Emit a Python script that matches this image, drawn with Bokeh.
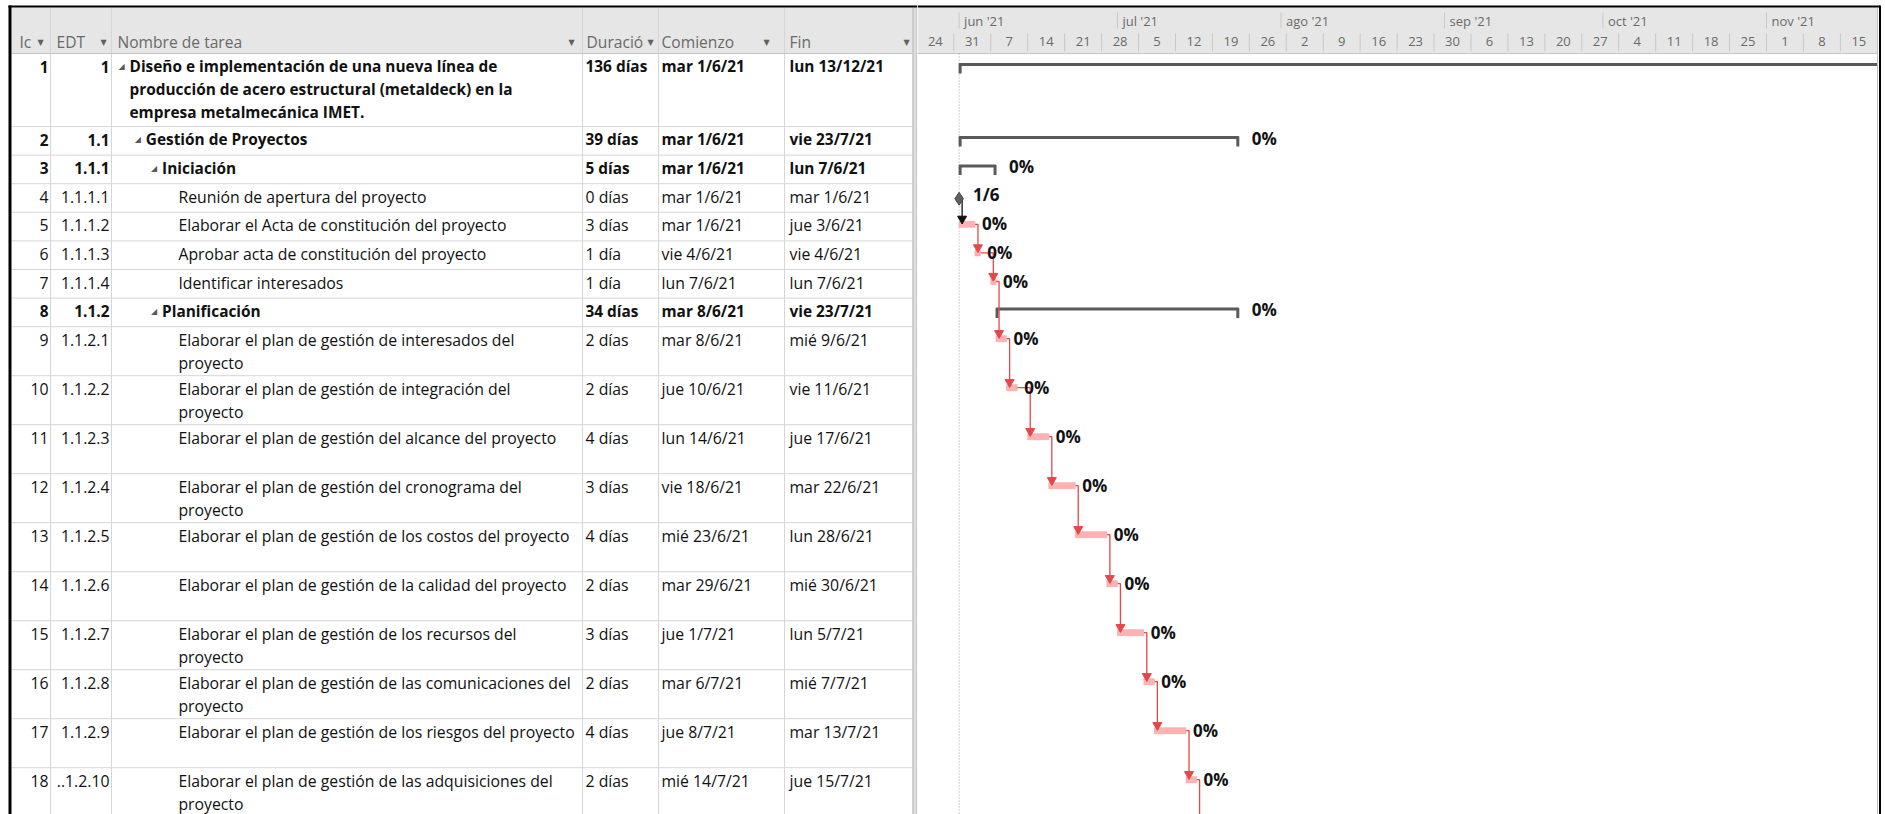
from datetime import datetime

from bokeh.core.properties import value
from bokeh.embed import file_html
from bokeh.layouts import row
from bokeh.models import ColumnDataSource, Range1d
from bokeh.plotting import figure
from bokeh.resources import INLINE

# ---------------------------------------------------------------- task data
task_ids = list(range(1, 19))
edt_codes = ["1", "1.1", "1.1.1", "1.1.1.1", "1.1.1.2", "1.1.1.3", "1.1.1.4",
             "1.1.2", "1.1.2.1", "1.1.2.2", "1.1.2.3", "1.1.2.4", "1.1.2.5",
             "1.1.2.6", "1.1.2.7", "1.1.2.8", "1.1.2.9", "1.1.2.10"]
task_names = [
    "Diseño e implementación de una nueva línea de\nproducción de acero estructural (metaldeck) en la\nempresa metalmecánica IMET.",
    "Gestión de Proyectos",
    "Iniciación",
    "Reunión de apertura del proyecto",
    "Elaborar el Acta de constitución del proyecto",
    "Aprobar acta de constitución del proyecto",
    "Identificar interesados",
    "Planificación",
    "Elaborar el plan de gestión de interesados del\nproyecto",
    "Elaborar el plan de gestión de integración del\nproyecto",
    "Elaborar el plan de gestión del alcance del proyecto",
    "Elaborar el plan de gestión del cronograma del\nproyecto",
    "Elaborar el plan de gestión de los costos del proyecto",
    "Elaborar el plan de gestión de la calidad del proyecto",
    "Elaborar el plan de gestión de los recursos del\nproyecto",
    "Elaborar el plan de gestión de las comunicaciones del\nproyecto",
    "Elaborar el plan de gestión de los riesgos del proyecto",
    "Elaborar el plan de gestión de las adquisiciones del\nproyecto",
]
outline_levels = [0, 1, 2, 3, 3, 3, 3, 2, 3, 3, 3, 3, 3, 3, 3, 3, 3, 3]
is_summary = [True, True, True, False, False, False, False, True,
              False, False, False, False, False, False, False, False, False, False]
durations = ["136 días", "39 días", "5 días", "0 días", "3 días", "1 día", "1 día",
             "34 días", "2 días", "2 días", "4 días", "3 días", "4 días", "2 días",
             "3 días", "2 días", "4 días", "2 días"]
start_labels = ["mar 1/6/21", "mar 1/6/21", "mar 1/6/21", "mar 1/6/21", "mar 1/6/21",
                "vie 4/6/21", "lun 7/6/21", "mar 8/6/21", "mar 8/6/21", "jue 10/6/21",
                "lun 14/6/21", "vie 18/6/21", "mié 23/6/21", "mar 29/6/21",
                "jue 1/7/21", "mar 6/7/21", "jue 8/7/21", "mié 14/7/21"]
finish_labels = ["lun 13/12/21", "vie 23/7/21", "lun 7/6/21", "mar 1/6/21", "jue 3/6/21",
                 "vie 4/6/21", "lun 7/6/21", "vie 23/7/21", "mié 9/6/21", "vie 11/6/21",
                 "jue 17/6/21", "mar 22/6/21", "lun 28/6/21", "mié 30/6/21",
                 "lun 5/7/21", "mié 7/7/21", "mar 13/7/21", "jue 15/7/21"]
percent_complete = [0] * 18
milestone_label = "1/6"
row_line_counts = [3, 1, 1, 1, 1, 1, 1, 1, 2, 2, 2, 2, 2, 2, 2, 2, 2, 2]
# finish-to-start links (predecessor id, successor id)
links = [(4, 5), (5, 6), (6, 7), (7, 9), (9, 10), (10, 11), (11, 12), (12, 13),
         (13, 14), (14, 15), (15, 16), (16, 17), (17, 18)]
links_continuing_below = [18]

# ---------------------------------------------------------------- timescale
timescale_start = "2021-05-24"
week_labels = ["24", "31", "7", "14", "21", "28", "5", "12", "19", "26", "2", "9",
               "16", "23", "30", "6", "13", "20", "27", "4", "11", "18", "25",
               "1", "8", "15"]
month_labels = ["jun '21", "jul '21", "ago '21", "sep '21", "oct '21", "nov '21"]
month_starts = ["2021-06-01", "2021-07-01", "2021-08-01", "2021-09-01",
                "2021-10-01", "2021-11-01"]
header_labels = ["Ic", "EDT", "Nombre de tarea", "Duració", "Comienzo", "Fin"]

# ---------------------------------------------------------------- layout / style
FONT = "Open Sans"
SYM_FONT = "DejaVu Sans"
W, H = 1885, 814
TABLE_W = 917
GANTT_W = W - TABLE_W
PX_PER_DAY = 5.277
HEADER_TOP, HEADER_BOTTOM = 7, 53
ROW_HEIGHTS = {1: 28.6, 2: 49.0, 3: 73.0}
LINE_STEP = 23
COL_EDGES = [11, 50, 111, 582, 658, 784, 912]
SIZE_NORMAL = "15.8px"
SIZE_BOLD = "15.4px"
HEAD_SIZE = "15.6px"
LABEL_SIZE = "17px"
HEAD_BG = "#e6e6e6"
HEAD_TEXT = "#6a6a6a"
GRID = "#d6d6d6"
BAR_FILL = "#fdb3b3"
LINK_RED = "#e4474a"
SUMMARY_GRAY = "#5a5a5a"


def parse_label(lbl):
    d, m, y = lbl.split()[1].split("/")
    return datetime(2000 + int(y), int(m), int(d))


def ms(dt):
    return (dt - datetime(1970, 1, 1)).total_seconds() * 1000.0


DAY_MS = 86400000.0


def px_days(px):
    return px / PX_PER_DAY * DAY_MS


starts = [parse_label(s) for s in start_labels]
finishes = [parse_label(s) for s in finish_labels]

# row positions
row_tops = []
y = HEADER_BOTTOM
for n in row_line_counts:
    row_tops.append(y)
    y += ROW_HEIGHTS[n]
row_bottoms = [t + ROW_HEIGHTS[n] for t, n in zip(row_tops, row_line_counts)]

y_range = Range1d(H, 0)


def blank(fig):
    fig.axis.visible = False
    fig.grid.visible = False
    fig.outline_line_color = None
    fig.background_fill_color = "white"
    fig.border_fill_color = "white"
    fig.min_border = 0


# ================================================================= table side
pt = figure(width=TABLE_W, height=H, x_range=Range1d(0, TABLE_W), y_range=y_range,
            output_backend="svg", toolbar_location=None, min_border=0)
blank(pt)

# header band
pt.quad(left=COL_EDGES[0], right=COL_EDGES[-1], top=HEADER_TOP, bottom=HEADER_BOTTOM,
        fill_color=HEAD_BG, line_color=None)
pt.segment(x0=COL_EDGES[1:-1], y0=[HEADER_TOP] * 5, x1=COL_EDGES[1:-1],
           y1=[H] * 5, line_color=GRID, line_width=1)
pt.segment(x0=[COL_EDGES[0]], y0=[HEADER_BOTTOM], x1=[COL_EDGES[-1]], y1=[HEADER_BOTTOM],
           line_color="#c4c4c4", line_width=1)

head_x = [19, 56, 117, 586, 661, 789]
arrow_x = [40, 103, 571, 650, 766, 906]
pt.text(x=head_x, y=[41] * 6, text=header_labels, text_font=value(FONT),
        text_font_size=HEAD_SIZE, text_color=HEAD_TEXT, text_baseline="middle")
pt.text(x=arrow_x, y=[42] * 6, text=["▼"] * 6, text_font=value(SYM_FONT),
        text_font_size="8px", text_color="#606060", text_align="center",
        text_baseline="middle")

# row separators
pt.segment(x0=[COL_EDGES[0]] * 18, y0=row_bottoms, x1=[COL_EDGES[-1]] * 18,
           y1=row_bottoms, line_color=GRID, line_width=1)

# cell text
rows_id = dict(x=[], y=[], text=[], style=[], size=[])
rows_cells = dict(x=[], y=[], text=[], style=[], size=[])
tri = dict(x=[], y=[], text=[])
for i in range(18):
    top = row_tops[i]
    first_y = top + 13
    style = "bold" if is_summary[i] else "normal"
    size = SIZE_BOLD if is_summary[i] else SIZE_NORMAL
    code = edt_codes[i] if len(edt_codes[i]) <= 7 else ".." + edt_codes[i][-6:]
    rows_id["x"] += [48, 109]
    rows_id["y"] += [first_y, first_y]
    rows_id["text"] += [str(task_ids[i]), code]
    rows_id["style"] += [style, style]
    rows_id["size"] += [size, size]
    name_x = 129 + 16.3 * outline_levels[i]
    for k, line in enumerate(task_names[i].split("\n")):
        rows_cells["x"].append(name_x)
        rows_cells["y"].append(first_y + LINE_STEP * k)
        rows_cells["text"].append(line)
        rows_cells["style"].append(style)
        rows_cells["size"].append(size)
    for cx, txt in zip([585, 661, 789], [durations[i], start_labels[i], finish_labels[i]]):
        rows_cells["x"].append(cx)
        rows_cells["y"].append(first_y)
        rows_cells["text"].append(txt)
        rows_cells["style"].append(style)
        rows_cells["size"].append(size)
    if is_summary[i]:
        tri["x"].append(name_x - 8)
        tri["y"].append(first_y)
        tri["text"].append("◢")

pt.text(x="x", y="y", text="text", text_font_style="style", text_font_size="size",
        source=ColumnDataSource(rows_id), text_font=value(FONT), text_color="#111111",
        text_align="right", text_baseline="middle")
pt.text(x="x", y="y", text="text", text_font_style="style", text_font_size="size",
        source=ColumnDataSource(rows_cells), text_font=value(FONT), text_color="#111111",
        text_baseline="middle")
pt.text(x="x", y="y", text="text", source=ColumnDataSource(tri),
        text_font=value(SYM_FONT), text_font_size="8px", text_color="#5a5a5a",
        text_align="center", text_baseline="middle")

# splitter and frame
pt.quad(left=912, right=917, top=HEADER_TOP, bottom=H, fill_color="#dedede", line_color=None)
pt.segment(x0=[912.5, 916.5], y0=[HEADER_TOP] * 2, x1=[912.5, 916.5], y1=[H] * 2,
           line_color="#b4b4b4", line_width=1)
pt.segment(x0=[9.5], y0=[5], x1=[9.5], y1=[H], line_color="black", line_width=3)
pt.segment(x0=[8], y0=[6], x1=[TABLE_W], y1=[6], line_color="black", line_width=2)

# ================================================================= gantt side
t0 = ms(datetime.fromisoformat(timescale_start)) + px_days(0.6)
t1 = t0 + px_days(GANTT_W)
view_end = t0 + px_days(1877 - TABLE_W)
frame_x = t0 + px_days(1879.5 - TABLE_W)

pg = figure(width=GANTT_W, height=H, x_range=Range1d(t0, t1), y_range=y_range,
            output_backend="svg", toolbar_location=None, min_border=0)
blank(pg)

# timescale header
pg.quad(left=t0, right=view_end, top=HEADER_TOP, bottom=HEADER_BOTTOM,
        fill_color=HEAD_BG, line_color=None)
pg.segment(x0=[t0], y0=[HEADER_BOTTOM], x1=[view_end], y1=[HEADER_BOTTOM],
           line_color="#c4c4c4", line_width=1)
ws = ms(datetime.fromisoformat(timescale_start))
week_x = [ws + 7 * i * DAY_MS for i in range(len(week_labels))]
pg.segment(x0=week_x[1:], y0=[33] * (len(week_x) - 1), x1=week_x[1:],
           y1=[51] * (len(week_x) - 1), line_color="#c8c8c8", line_width=1)
pg.text(x=[w + 3.5 * DAY_MS for w in week_x], y=[41] * len(week_x), text=week_labels,
        text_font=value(FONT), text_font_size="13px", text_color=HEAD_TEXT,
        text_align="center", text_baseline="middle")
mx = [ms(datetime.fromisoformat(m)) for m in month_starts]
pg.segment(x0=mx, y0=[12] * len(mx), x1=mx, y1=[28] * len(mx),
           line_color="#c8c8c8", line_width=1)
pg.text(x=[m + px_days(5) for m in mx], y=[20] * len(mx), text=month_labels,
        text_font=value(FONT), text_font_size="13px", text_color=HEAD_TEXT,
        text_baseline="middle")

# project start marker
proj_start = ms(starts[0])
pg.segment(x0=[proj_start], y0=[HEADER_BOTTOM], x1=[proj_start], y1=[H],
           line_color="#a0a0a0", line_width=1, line_dash="1 2")

# summary brackets, task bars, milestones
sb = dict(l=[], r=[], y=[], tick_x=[], tick_y0=[], tick_y1=[], lx=[], ly=[], lt=[])
tb = dict(l=[], r=[], top=[], bottom=[], lx=[], ly=[], lt=[])
ms_pts = dict(x=[], y=[], lx=[], ly=[])
for i in range(18):
    top = row_tops[i]
    s = ms(starts[i])
    f = ms(finishes[i]) + DAY_MS
    pct = f"{percent_complete[i]}%"
    if is_summary[i]:
        right = min(f, view_end)
        sb["l"].append(s)
        sb["r"].append(right)
        sb["y"].append(top + 11)
        sb["tick_x"].append(s + px_days(1))
        sb["tick_y0"].append(top + 10)
        sb["tick_y1"].append(top + 20)
        if f <= view_end:
            sb["tick_x"].append(f - px_days(1))
            sb["tick_y0"].append(top + 10)
            sb["tick_y1"].append(top + 20)
            sb["lx"].append(f + px_days(13))
            sb["ly"].append(top + 11.5)
            sb["lt"].append(pct)
    elif durations[i].startswith("0 "):
        ms_pts["x"].append(s)
        ms_pts["y"].append(top + 15)
        ms_pts["lx"].append(s + px_days(14))
        ms_pts["ly"].append(top + 11)
    else:
        tb["l"].append(s)
        tb["r"].append(f)
        tb["top"].append(top + 9)
        tb["bottom"].append(top + 15)
        tb["lx"].append(f + px_days(7))
        tb["ly"].append(top + 11.5)
        tb["lt"].append(pct)

pg.segment(x0=sb["l"], y0=sb["y"], x1=sb["r"], y1=sb["y"], line_color=SUMMARY_GRAY,
           line_width=3)
pg.segment(x0=sb["tick_x"], y0=sb["tick_y0"], x1=sb["tick_x"], y1=sb["tick_y1"],
           line_color=SUMMARY_GRAY, line_width=3)


# dependency links
def bar_end(idx):
    if durations[idx].startswith("0 "):
        return ms(starts[idx]), row_tops[idx] + 15
    return ms(finishes[idx]) + DAY_MS, row_tops[idx] + 12


link_xs, link_ys, link_col, arr_x, arr_y, arr_col = [], [], [], [], [], []
for a, b in links:
    pi, si = a - 1, b - 1
    ex, ey = bar_end(pi)
    xv = max(ex + px_days(3), ms(starts[si]) + px_days(2.5))
    tip = row_tops[si] + 9
    col = "#111111" if durations[pi].startswith("0 ") else LINK_RED
    link_xs.append([ex, xv, xv])
    link_ys.append([ey, ey, tip - 3])
    link_col.append(col)
    arr_x.append(xv)
    arr_y.append(tip - 2.5)
    arr_col.append(col)
for a in links_continuing_below:
    ex, ey = bar_end(a - 1)
    xv = ex + px_days(3)
    link_xs.append([ex, xv, xv])
    link_ys.append([ey, ey, H])
    link_col.append(LINK_RED)

pg.multi_line(xs=link_xs, ys=link_ys, line_color=link_col, line_width=1.3)

pg.quad(left=tb["l"], right=tb["r"], top=tb["top"], bottom=tb["bottom"],
        fill_color=BAR_FILL, line_color="#f6a3a3", line_width=0.6)
pg.scatter(x=arr_x, y=arr_y, marker="inverted_triangle", size=9,
           fill_color=arr_col, line_color=arr_col)
pg.scatter(x=ms_pts["x"], y=ms_pts["y"], marker="diamond", size=13,
           fill_color="#5e5e5e", line_color="#4a4a4a")

label_kw = dict(text_font=value(FONT), text_font_size=LABEL_SIZE, text_font_style="bold",
                text_color="#111111", text_baseline="middle")
pg.text(x=sb["lx"], y=sb["ly"], text=sb["lt"], **label_kw)
pg.text(x=tb["lx"], y=tb["ly"], text=tb["lt"], **label_kw)
pg.text(x=ms_pts["lx"], y=ms_pts["ly"], text=[milestone_label] * len(ms_pts["x"]), **label_kw)

# frame
pg.segment(x0=[view_end], y0=[HEADER_TOP], x1=[view_end], y1=[H], line_color="#bdbdbd",
           line_width=1)
pg.quad(left=view_end + px_days(1), right=t1, top=0, bottom=H, fill_color="white",
        line_color=None)
pg.segment(x0=[frame_x], y0=[5], x1=[frame_x], y1=[H], line_color="black", line_width=2)
pg.segment(x0=[t0], y0=[6], x1=[frame_x], y1=[6], line_color="black", line_width=2)

layout = row(pt, pg, spacing=0)
open("out.html", "w").write(file_html(layout, INLINE))
